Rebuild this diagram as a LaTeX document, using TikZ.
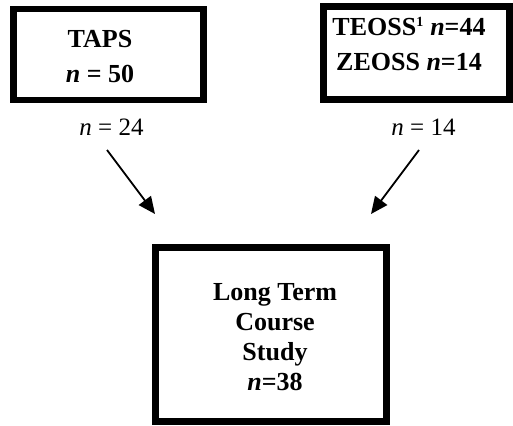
\documentclass[tikz,border=0pt]{standalone}
\usepackage{fontspec}
\setmainfont{Liberation Serif}
\usetikzlibrary{arrows.meta}
\tikzset{
  bigbox/.style={draw=black, line width=6.5pt, fill=white, inner sep=0pt, align=center},
  boxtext/.style={align=center, inner sep=0pt, font=\fontsize{26pt}{35pt}\selectfont\bfseries},
  countlabel/.style={inner sep=0pt, font=\fontsize{25pt}{28pt}\selectfont},
  flowarrow/.style={line width=1.8pt, -{Triangle[length=17pt,width=15pt]}}
}
\begin{document}
\begin{tikzpicture}[x=1pt,y=-1pt]
\useasboundingbox (0,0) rectangle (513,425);
% boxes
\node[bigbox, minimum width=190pt, minimum height=91pt] (taps) at (108.5,54.5) {};
\node[boxtext] (tapst) at (100,57) {TAPS\\\textit{n} = 50};
\node[bigbox, minimum width=186pt, minimum height=93pt] (teoss) at (416.5,53) {};
\node[boxtext] (teosst) at (409,44) {TEOSS\textsuperscript{\fontsize{14pt}{14pt}\selectfont 1} \textit{n}=44\\ZEOSS \textit{n}=14};
\node[bigbox, minimum width=231pt, minimum height=174pt] (lt) at (271,334.5) {};
\node[boxtext, font=\fontsize{26pt}{30pt}\selectfont\bfseries] (ltt) at (275,337) {Long Term\\Course\\Study\\\textit{n}=38};
% labels
\node[countlabel] (l24) at (111.5,127) {\textit{n} = 24};
\node[countlabel] (l14) at (423.5,127) {\textit{n} = 14};
% arrows
\coordinate (a1s) at (107,150);
\coordinate (a1e) at (155,214);
\coordinate (a2s) at (419,150);
\coordinate (a2e) at (371,214);
\draw[flowarrow] (a1s) -- (a1e);
\draw[flowarrow] (a2s) -- (a2e);
\end{tikzpicture}
\end{document}
